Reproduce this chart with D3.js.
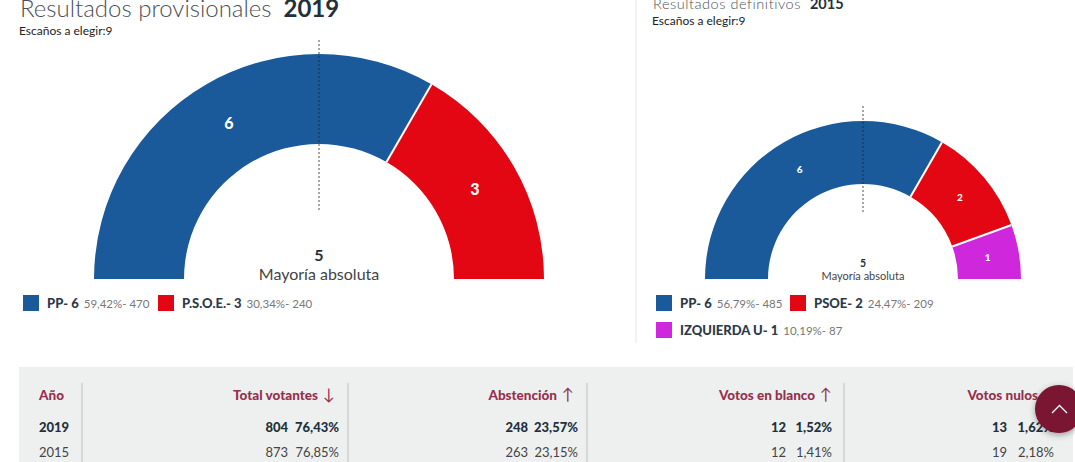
<!DOCTYPE html>
<html>
<head>
<meta charset="utf-8">
<script src="https://cdn.jsdelivr.net/npm/d3@7"></script>
<style>
html, body { margin: 0; padding: 0; background: #fff; overflow: hidden; }
svg { display: block; font-family: Lato, sans-serif; }
</style>
</head>
<body>
<script>
// 2019
let parties2019 = ["PP", "P.S.O.E."];
let seats2019 = [6, 3];
let pct2019 = ["59,42%", "30,34%"];
let votes2019 = [470, 240];
let colors2019 = ["#1a5a9b", "#e30613"];

// 2015
let parties2015 = ["PP", "PSOE", "IZQUIERDA U"];
let seats2015 = [6, 2, 1];
let pct2015 = ["56,79%", "24,47%", "10,19%"];
let votes2015 = [485, 209, 87];
let colors2015 = ["#1a5a9b", "#e30613", "#cf28dc"];

let tableHeaders = ["Año", "Total votantes", "Abstención", "Votos en blanco", "Votos nulos"];
let headerArrows = ["", "↓", "↑", "↑", "↑"];
let tableYears = ["2019", "2015"];
let tableCounts = [[804, 248, 12, 13], [873, 263, 12, 19]];
let tablePcts = [["76,43%", "23,57%", "1,52%", "1,62%"], ["76,85%", "23,15%", "1,41%", "2,18%"]];

let width = 1075;
let height = 462;
let svg = d3.select("body").append("svg").attr("width", width).attr("height", height);

let defs = svg.append("defs");
let shadow = defs.append("filter").attr("id", "btnshadow")
    .attr("x", "-30%").attr("y", "-30%").attr("width", "160%").attr("height", "160%");
shadow.append("feDropShadow").attr("dx", 0).attr("dy", 2).attr("stdDeviation", 3)
    .attr("flood-color", "#000").attr("flood-opacity", 0.35);

function drawHemicycle(o) {
    let g = svg.append("g").attr("transform", `translate(${o.cx},${o.baseY})`);
    let pie = d3.pie().sort(null).startAngle(-Math.PI / 2).endAngle(Math.PI / 2);
    let arc = d3.arc().innerRadius(o.inner).outerRadius(o.outer);
    let slices = pie(o.seats);

    g.selectAll("path")
        .data(slices)
        .join("path")
        .attr("d", arc)
        .attr("fill", (d, i) => o.colors[i]);

    // white gaps between the parties, not around the outside
    g.selectAll(".gap")
        .data(slices.slice(0, -1))
        .join("line")
        .attr("class", "gap")
        .attr("x1", d => Math.sin(d.endAngle) * o.inner)
        .attr("y1", d => -Math.cos(d.endAngle) * o.inner)
        .attr("x2", d => Math.sin(d.endAngle) * o.outer)
        .attr("y2", d => -Math.cos(d.endAngle) * o.outer)
        .attr("stroke", "#fff")
        .attr("stroke-width", 2);

    g.selectAll(".seatlabel")
        .data(slices)
        .join("text")
        .attr("class", "seatlabel")
        .attr("transform", d => `translate(${arc.centroid(d)})`)
        .attr("text-anchor", "middle")
        .attr("dy", "0.35em")
        .attr("fill", "#fff")
        .attr("font-weight", 900)
        .attr("font-size", o.labelSize)
        .text(d => d.data);

    // majority line
    g.append("line")
        .attr("x1", 0).attr("x2", 0)
        .attr("y1", o.lineTop - o.baseY).attr("y2", 212 - o.baseY)
        .attr("stroke", "#222")
        .attr("stroke-width", 0.8)
        .attr("stroke-dasharray", "2,2");

    g.append("text")
        .attr("text-anchor", "middle")
        .attr("y", o.majY1 - o.baseY)
        .attr("fill", "#22303c")
        .attr("font-weight", 700)
        .attr("font-size", o.majSize1)
        .text("5");
    g.append("text")
        .attr("text-anchor", "middle")
        .attr("y", o.majY2 - o.baseY)
        .attr("fill", "#444")
        .attr("font-size", o.majSize2)
        .text("Mayoría absoluta");
}

function drawTitle(x, y, size, spacing, label, year, yearGap, subY) {
    let t = svg.append("text").attr("x", x).attr("y", y).attr("font-size", size);
    t.append("tspan").attr("fill", "#4a5056").attr("font-weight", 300).attr("letter-spacing", spacing).text(label);
    t.append("tspan").attr("dx", yearGap).attr("fill", "#22303c").attr("font-weight", 700).text(year);
    svg.append("text").attr("x", x - 1).attr("y", subY).attr("font-size", 12)
        .attr("fill", "#222").text("Escaños a elegir:9");
}

function drawLegend(items) {
    items.forEach(d => {
        svg.append("rect").attr("x", d.x).attr("y", d.y).attr("width", 16).attr("height", 16).attr("fill", d.color);
        let t = svg.append("text").attr("x", d.x + 24).attr("y", d.y + 13);
        t.append("tspan").attr("font-size", 13).attr("font-weight", 900).attr("fill", "#2c3a4a")
            .text(`${d.name}- ${d.seats}`);
        t.append("tspan").attr("dx", 5).attr("font-size", 11.5).attr("fill", "#777")
            .text(`${d.pct}- ${d.votes}`);
    });
}

drawTitle(20, 17, 24, 0, "Resultados provisionales", "2019", 12, 35);
drawHemicycle({ cx: 319, baseY: 279, outer: 225, inner: 135, seats: seats2019, colors: colors2019,
    labelSize: 16, lineTop: 40, majY1: 261, majY2: 280, majSize1: 16, majSize2: 16 });
drawLegend(parties2019.map((p, i) => ({ x: [23, 158][i], y: 295, color: colors2019[i], name: p,
    seats: seats2019[i], pct: pct2019[i], votes: votes2019[i] })));

// divider between both charts
svg.append("line").attr("x1", 636).attr("x2", 636).attr("y1", 0).attr("y2", 343)
    .attr("stroke", "#e6e6e6");

drawTitle(653, 9, 14.5, 0.55, "Resultados definitivos", "2015", 9, 25);
drawHemicycle({ cx: 863, baseY: 279, outer: 158, inner: 95, seats: seats2015, colors: colors2015,
    labelSize: 10, lineTop: 106, majY1: 267, majY2: 280, majSize1: 10.5, majSize2: 11 });
drawLegend(parties2015.map((p, i) => ({ x: [656, 790, 656][i], y: [295, 295, 322][i], color: colors2015[i], name: p,
    seats: seats2015[i], pct: pct2015[i], votes: votes2015[i] })));

// results table
svg.append("rect").attr("x", 19).attr("y", 367).attr("width", 1054).attr("height", 95).attr("fill", "#eef0f0");

let colRight = [39, 339, 578, 832, 1054];
let countOffset = [51, 50, 46, 47];
let colDivs = [82, 348, 587, 844];
let headerRight = [39, 335, 574, 832, 1055];

svg.selectAll(".coldiv")
    .data(colDivs)
    .join("line")
    .attr("class", "coldiv")
    .attr("x1", d => d).attr("x2", d => d)
    .attr("y1", 383).attr("y2", 462)
    .attr("stroke", "#c3bfc0");

tableHeaders.forEach((h, i) => {
    let t = svg.append("text")
        .attr("x", headerRight[i])
        .attr("y", 400)
        .attr("text-anchor", i == 0 ? "start" : "end")
        .attr("font-size", 13.5)
        .attr("font-weight", 900)
        .attr("fill", "#96304d");
    t.append("tspan").text(h);
    if (headerArrows[i]) t.append("tspan").attr("dx", 5).attr("font-size", 16).attr("font-weight", 400).text(headerArrows[i]);
});

tableYears.forEach((year, r) => {
    let y = [432, 457][r];
    let weight = r == 0 ? 900 : 400;
    let fill = r == 0 ? "#22303c" : "#444";
    svg.append("text").attr("x", 39).attr("y", y).attr("font-size", 13)
        .attr("font-weight", weight).attr("fill", fill).text(year);
    tableCounts[r].forEach((c, i) => {
        svg.append("text").attr("x", colRight[i + 1]).attr("y", y).attr("text-anchor", "end")
            .attr("font-size", 13).attr("font-weight", weight).attr("fill", fill).text(tablePcts[r][i]);
        svg.append("text").attr("x", colRight[i + 1] - countOffset[i]).attr("y", y).attr("text-anchor", "end")
            .attr("font-size", 13).attr("font-weight", weight).attr("fill", fill).text(c);
    });
});

// back to top button
svg.append("circle").attr("cx", 1059).attr("cy", 409).attr("r", 24)
    .attr("fill", "#7a1232").attr("filter", "url(#btnshadow)");
svg.append("path")
    .attr("d", d3.line()([[1052, 413], [1059.5, 405.5], [1067, 413]]))
    .attr("fill", "none").attr("stroke", "#fff").attr("stroke-width", 1.3);
</script>
</body>
</html>
